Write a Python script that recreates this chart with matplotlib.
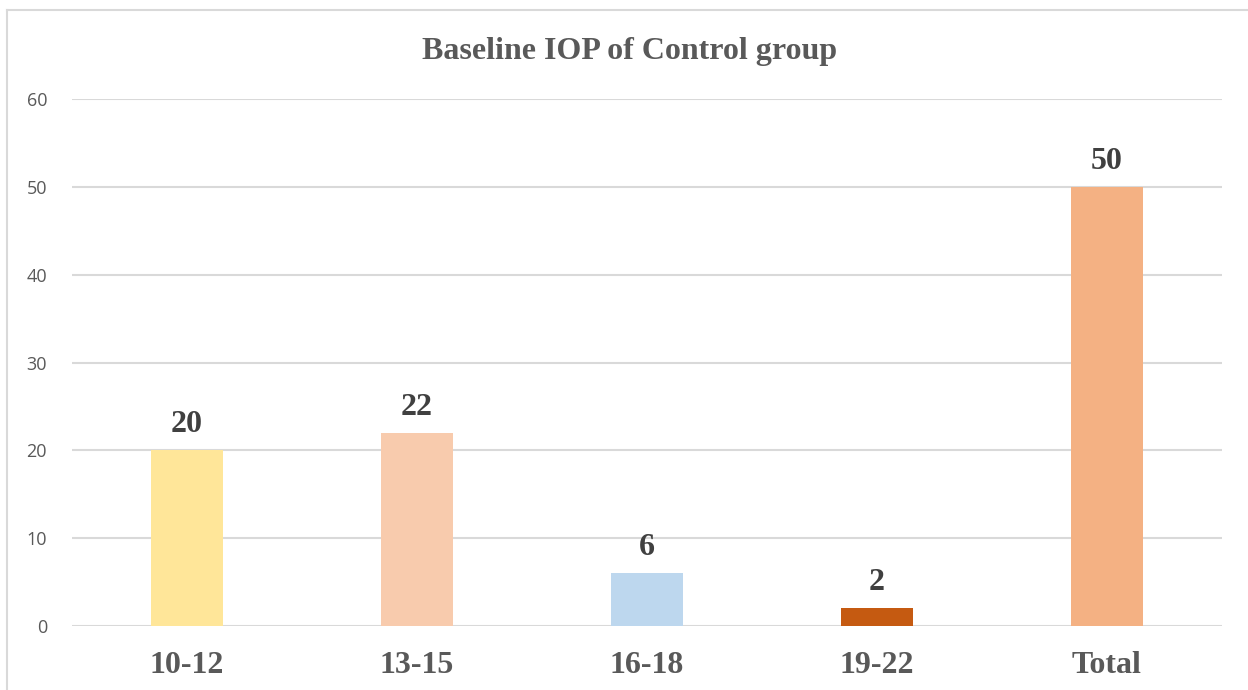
import matplotlib.pyplot as plt
from matplotlib.lines import Line2D

categories = ["10-12", "13-15", "16-18", "19-22", "Total"]
values = [20, 22, 6, 2, 50]
colors = ["#FFE699", "#F8CBAD", "#BDD7EE", "#C55A11", "#F4B183"]
yticks = [0, 10, 20, 30, 40, 50, 60]
title = "Baseline IOP of Control group"

W, H = 1248, 690
fig = plt.figure(figsize=(W / 100, H / 100), dpi=100)
ax = fig.add_axes([72 / W, 1 - 626 / H, (1222 - 72) / W, (626 - 99) / H])

x = list(range(len(categories)))
bars = ax.bar(x, values, width=0.317, color=colors, zorder=3)
ax.set_xlim(-0.5, len(categories) - 0.5)
ax.set_ylim(0, 60)
ax.set_yticks(yticks)
ax.set_yticklabels([str(t) for t in yticks], fontsize=13, color="#595959",
                   family=["Open Sans", "DejaVu Sans"])
ax.set_xticks(x)
ax.set_xticklabels(categories, fontsize=23, fontweight="bold", color="#595959",
                   family="Liberation Serif")
ax.tick_params(axis="y", length=0, pad=18)
ax.tick_params(axis="x", length=0, pad=18)
ax.grid(axis="y", color="#D9D9D9", linewidth=1.5, zorder=0)
for s in ax.spines.values():
    s.set_visible(False)

for xi, v in zip(x, values):
    ax.annotate(str(v), (xi, v), xytext=(0, 8), textcoords="offset points",
                ha="center", va="bottom", fontsize=23, fontweight="bold",
                color="#404040", family="Liberation Serif")

fig.text((423 + 836) / 2 / W, 1 - 51 / H, title, ha="center", va="center",
         fontsize=23, fontweight="bold", color="#595959", family="Liberation Serif")

# outer chart frame (top and left edges visible)
fig.add_artist(Line2D([6.5 / W, 1], [1 - 9.5 / H, 1 - 9.5 / H], color="#D9D9D9", lw=1.5,
                      transform=fig.transFigure))
fig.add_artist(Line2D([6.5 / W, 6.5 / W], [0, 1 - 9.5 / H], color="#D9D9D9", lw=1.5,
                      transform=fig.transFigure))

fig.savefig("out.png", dpi=100, facecolor="white")
